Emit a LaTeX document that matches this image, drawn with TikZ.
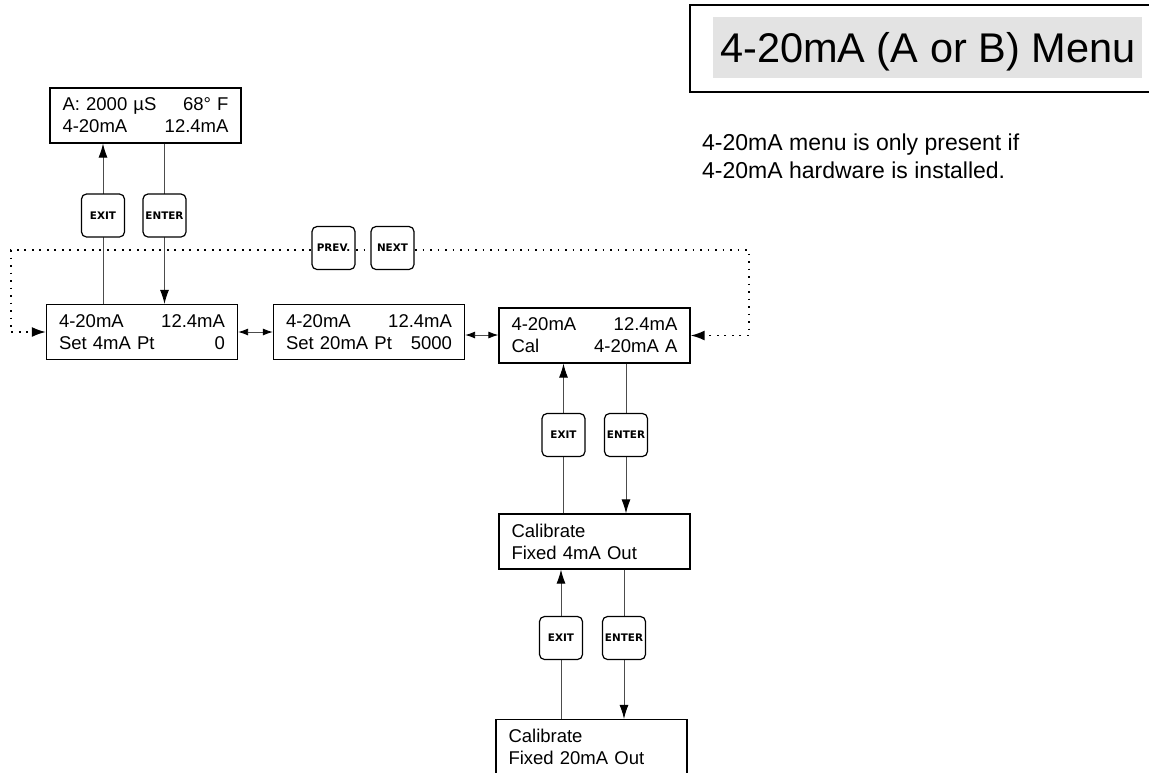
\documentclass[tikz,border=0pt]{standalone}
\usepackage{fontspec}
\setmainfont{Liberation Sans}
\newfontfamily\btnfont{DejaVu Sans}
\usetikzlibrary{arrows.meta}
\begin{document}
\begin{tikzpicture}[x=1pt,y=-1pt,
  lcd/.style={draw=black, line width=1.3pt, fill=white, minimum width=191pt, minimum height=55pt,
    inner sep=0pt, text width=166pt, align=left, font=\fontsize{18.5}{22}\selectfont},
  btn/.style={draw=black, line width=1.2pt, rounded corners=5pt, fill=white, minimum width=43pt,
    minimum height=43pt, inner sep=0pt, font=\btnfont\bfseries\fontsize{10.4}{12}\selectfont},
  conn/.style={draw=black!70, line width=0.9pt},
  arr/.style={conn, -{Latex[length=14pt,width=9pt,color=black]}},
  dbl/.style={conn, {Latex[length=10pt,width=7pt,color=black]}-{Latex[length=10pt,width=7pt,color=black]}},
  dots/.style={draw=black, line width=1.7pt, dash pattern=on 1.7pt off 5.8pt},
  dotarr/.style={dots, -{Latex[length=14pt,width=10pt]}},
  note/.style={anchor=base west, inner sep=0pt, font=\fontsize{23}{27}\selectfont}
]
\useasboundingbox (0,0) rectangle (1149,772);
\clip (0,0) rectangle (1149,772);

% title
\draw[line width=1.4pt] (1160,5) -- (690,5) -- (690,92) -- (1160,92);
\node (titlebg) [fill=black!11, minimum width=429pt, minimum height=61pt, inner sep=0pt, anchor=north west] at (713,17) {};
\node (title) [anchor=base west, inner sep=0pt, font=\fontsize{41.5}{48}\selectfont] at (720,62) {4-20mA (A or B) Menu};

% note
\node (note1) [note] at (702,150) {4-20mA menu is only present if};
\node (note2) [note] at (702,178) {4-20mA hardware is installed.};

% LCD boxes
\node (top) [lcd] at (145.5,115.5) {A: 2000 µS\hfill 68° F\\4-20mA\hfill 12.4mA};
\node (b1) [lcd] at (142,332) {4-20mA\hfill 12.4mA\\Set 4mA Pt\hfill 0\hspace*{8pt}};
\node (b2) [lcd] at (369,332) {4-20mA\hfill 12.4mA\\Set 20mA Pt\hfill 5000};
\node (b3) [lcd] at (594.5,335.5) {4-20mA\hfill 12.4mA\\Cal\hfill 4-20mA A};
\node (b4) [lcd] at (594.5,541.5) {Calibrate\\Fixed 4mA Out};
\node (b5) [lcd] at (591.5,747) {Calibrate\\Fixed 20mA Out};

% button positions
\coordinate (ex1) at (103,215.5);
\coordinate (en1) at (164.5,215.5);
\coordinate (ex2) at (563.5,435);
\coordinate (en2) at (626,435);
\coordinate (ex3) at (561,638);
\coordinate (en3) at (624,638);
\coordinate (pv) at (333.5,248);
\coordinate (nx) at (392.5,248);

% dotted loop
\coordinate (cL) at (11,250);
\coordinate (cR) at (749,250);
\draw[dots] (pv |- cL) -- (nx |- cL);
\draw[dotarr] (pv |- cL) -- (cL) |- (b1.west);
\draw[dotarr] (nx |- cR) -- (cR) |- (b3.east);

% vertical connectors
\draw[arr] (b1.north -| ex1) -- (top.south -| ex1);
\draw[arr] (top.south -| en1) -- (b1.north -| en1);
\draw[arr] (b4.north -| ex2) -- (b3.south -| ex2);
\draw[arr] (b3.south -| en2) -- (b4.north -| en2);
\draw[arr] (b5.north -| ex3) -- (b4.south -| ex3);
\draw[arr] (b4.south -| en3) -- (b5.north -| en3);

% horizontal double arrows
\draw[dbl] (b1.east) -- (b2.west);
\draw[dbl] (b2.east |- 0,335) -- (b3.west |- 0,335);

% buttons
\node (bex1) [btn] at (ex1) {EXIT};
\node (ben1) [btn] at (en1) {ENTER};
\node (bex2) [btn] at (ex2) {EXIT};
\node (ben2) [btn] at (en2) {ENTER};
\node (bex3) [btn] at (ex3) {EXIT};
\node (ben3) [btn] at (en3) {ENTER};
\node (bpv) [btn] at (pv) {PREV.};
\node (bnx) [btn] at (nx) {NEXT};
\end{tikzpicture}
\end{document}
